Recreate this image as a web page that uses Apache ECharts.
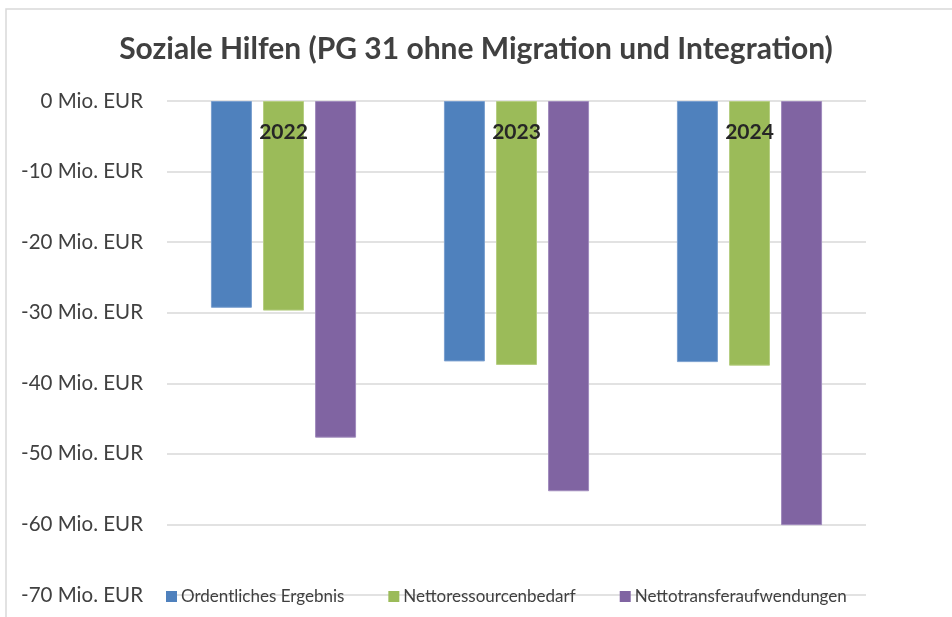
<!DOCTYPE html>
<html>
<head>
<meta charset="utf-8">
<script src="https://cdn.jsdelivr.net/npm/echarts@6/dist/echarts.min.js"></script>
<style>
    html, body { margin: 0; padding: 0; background: #fff; }
    #chart { width: 952px; height: 617px; }
</style>
</head>
<body>
<div id="chart"></div>
<script>
    // Jahre und Werte (Mio. EUR)
    const years = ['2022', '2023', '2024'];
    const ordentlichesErgebnis = [-29.3, -36.9, -37.0];
    const nettoressourcenbedarf = [-29.7, -37.4, -37.5];
    const nettotransferaufwendungen = [-47.7, -55.3, -60.1];
    const yTicks = { min: -70, max: 0, interval: 10 };

    const font = 'Lato, "Open Sans", sans-serif';

    function barSeries(name, data, color, border) {
        return {
            name: name,
            type: 'bar',
            data: data,
            barWidth: 41,
            barGap: '27%',
            itemStyle: { color: color, borderColor: border, borderWidth: 1 }
        };
    }

    const chart = echarts.init(document.getElementById('chart'));

    chart.setOption({
        animation: false,
        textStyle: { fontFamily: font },
        title: {
            text: 'Soziale Hilfen (PG 31 ohne Migration und Integration)',
            left: 'center',
            top: 29,
            textStyle: { fontFamily: font, fontSize: 30, fontWeight: 'bold', color: '#404040' }
        },
        grid: { left: 167, right: 86, top: 101, bottom: 22 },
        legend: {
            left: 161,
            top: 583,
            itemWidth: 11,
            itemHeight: 11,
            itemGap: 44,
            icon: 'rect',
            itemStyle: { borderWidth: 0 },
            textStyle: { fontFamily: font, fontSize: 17, color: '#404040', padding: [0, 0, 0, -1] },
            data: ['Ordentliches Ergebnis', 'Nettoressourcenbedarf', 'Nettotransferaufwendungen']
        },
        xAxis: {
            type: 'category',
            data: years,
            position: 'top',
            z: 5,
            axisLine: { show: false },
            axisTick: { show: false },
            axisLabel: {
                inside: true,
                margin: 21,
                fontFamily: font,
                fontSize: 21,
                fontWeight: 'bold',
                color: '#262626'
            }
        },
        yAxis: {
            type: 'value',
            min: yTicks.min,
            max: yTicks.max,
            interval: yTicks.interval,
            axisLine: { show: false },
            axisTick: { show: false },
            axisLabel: {
                margin: 24,
                fontFamily: font,
                fontSize: 20.5,
                color: '#404040',
                formatter: '{value} Mio. EUR'
            },
            splitLine: { lineStyle: { color: '#d9d9d9', width: 1.5 } }
        },
        graphic: [{
            type: 'rect',
            shape: { x: 6, y: 9, width: 980, height: 640 },
            style: { fill: 'none', stroke: '#d9d9d9', lineWidth: 1.5 },
            silent: true
        }],
        series: [
            barSeries('Ordentliches Ergebnis', ordentlichesErgebnis, '#4f81bd', '#7a9fcf'),
            barSeries('Nettoressourcenbedarf', nettoressourcenbedarf, '#9bbb59', '#b6ce82'),
            barSeries('Nettotransferaufwendungen', nettotransferaufwendungen, '#8064a2', '#a08bbd')
        ]
    });

    window.addEventListener('resize', () => chart.resize());
</script>
</body>
</html>
